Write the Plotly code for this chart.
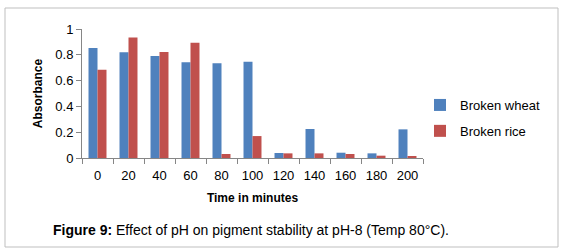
import plotly.graph_objects as go

categories = ["0", "20", "40", "60", "80", "100", "120", "140", "160", "180", "200"]
wheat = [0.853, 0.819, 0.79, 0.742, 0.734, 0.747, 0.039, 0.225, 0.041, 0.036, 0.222]
rice = [0.685, 0.935, 0.822, 0.894, 0.031, 0.17, 0.036, 0.036, 0.031, 0.018, 0.01]
y_ticks = [0, 0.2, 0.4, 0.6, 0.8, 1]
y_tick_labels = ["0", "0.2", "0.4", "0.6", "0.8", "1"]

W, H = 566, 252
L, R, T, B = 82, 423, 29, 158
pw, ph = R - L, B - T

def px(x):
    return (x - L) / pw

def py(y):
    return (B - y) / ph

fig = go.Figure()
fig.add_trace(go.Bar(x=categories, y=wheat, name="Broken wheat",
                     marker=dict(color="#4F81BD", line=dict(width=0)),
                     legendgroup="a"))
fig.add_trace(go.Bar(x=categories, y=rice, name="Broken rice",
                     marker=dict(color="#C0504D", line=dict(width=0)),
                     legendgroup="b"))

font_main = "Liberation Sans, Arial, sans-serif"

fig.update_layout(
    width=W, height=H,
    margin=dict(l=L, r=W - R, t=T, b=H - B),
    paper_bgcolor="white", plot_bgcolor="white",
    barmode="group", bargap=0.42, bargroupgap=0,
    font=dict(family=font_main, size=13, color="#000000"),
    showlegend=True,
    legend=dict(x=px(420), y=py(90), xanchor="left", yanchor="top",
                font=dict(size=13, family=font_main), traceorder="grouped",
                tracegroupgap=6, bgcolor="rgba(0,0,0,0)"),
    xaxis=dict(type="category", showline=True, linecolor="#868686", linewidth=1,
               ticks="outside", tickson="boundaries", ticklen=5, tickcolor="#868686",
               showgrid=False, tickfont=dict(size=13), ticklabelstandoff=5,
               title=dict(text="<b>Time in minutes</b>", font=dict(size=12), standoff=12)),
    yaxis=dict(range=[0, 1], tickvals=y_ticks, ticktext=y_tick_labels,
               showline=True, linecolor="#868686", linewidth=1,
               ticks="outside", ticklen=5, tickcolor="#868686",
               showgrid=False, zeroline=False, tickfont=dict(size=13),
               title=dict(text="<b>Absorbance</b>", font=dict(size=12), standoff=10)),
    shapes=[dict(type="rect", xref="paper", yref="paper",
                 x0=px(5), x1=px(558), y0=py(247), y1=py(8),
                 line=dict(color="#BFBFBF", width=1), fillcolor="rgba(0,0,0,0)",
                 layer="above")],
    annotations=[dict(text="<b>Figure 9:</b> Effect of pH on pigment stability at pH-8 (Temp 80°C).",
                      xref="paper", yref="paper", x=px(251), y=py(230),
                      xanchor="center", yanchor="middle", showarrow=False,
                      font=dict(size=14, family=font_main, color="#000000"))],
)

fig.write_html("out.html", config={"displayModeBar": False},
               post_script="document.body.style.margin='0';document.body.style.padding='0';")
